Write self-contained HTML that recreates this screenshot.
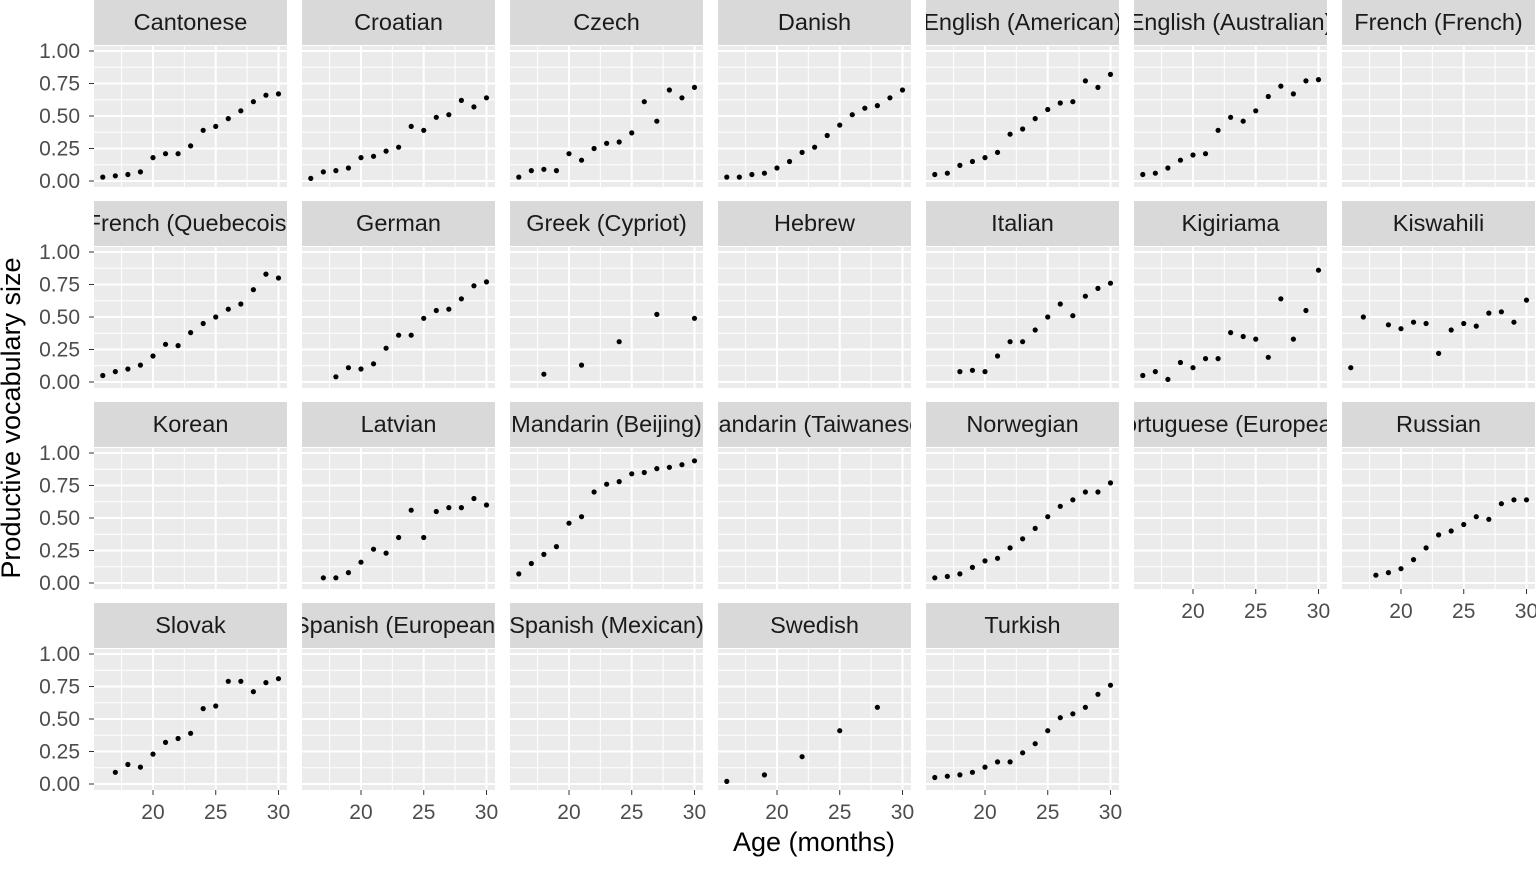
<!DOCTYPE html>
<html><head><meta charset="utf-8"><style>
body{margin:0;background:#fff}
svg text{font-family:"Liberation Sans",sans-serif}
</style></head><body>
<svg id="chart" width="1536" height="864" xmlns="http://www.w3.org/2000/svg"></svg>
<script>
const languages = ["Cantonese","Croatian","Czech","Danish","English (American)","English (Australian)","French (French)",
"French (Quebecois)","German","Greek (Cypriot)","Hebrew","Italian","Kigiriama","Kiswahili",
"Korean","Latvian","Mandarin (Beijing)","Mandarin (Taiwanese)","Norwegian","Portuguese (European)","Russian",
"Slovak","Spanish (European)","Spanish (Mexican)","Swedish","Turkish"];
const ages = [16,17,18,19,20,21,22,23,24,25,26,27,28,29,30];
const cantonese = [0.03,0.04,0.05,0.07,0.18,0.21,0.21,0.27,0.39,0.42,0.48,0.54,0.61,0.66,0.67];
const croatian = [0.02,0.07,0.08,0.10,0.18,0.19,0.23,0.26,0.42,0.39,0.49,0.51,0.62,0.57,0.64];
const czech = [0.03,0.08,0.09,0.08,0.21,0.16,0.25,0.29,0.30,0.37,0.61,0.46,0.70,0.64,0.72];
const danish = [0.03,0.03,0.05,0.06,0.10,0.15,0.22,0.26,0.35,0.43,0.51,0.56,0.58,0.64,0.70];
const englishAm = [0.05,0.06,0.12,0.15,0.18,0.22,0.36,0.40,0.48,0.55,0.60,0.61,0.77,0.72,0.82];
const englishAu = [0.05,0.06,0.10,0.16,0.20,0.21,0.39,0.49,0.46,0.54,0.65,0.73,0.67,0.77,0.78];
const frenchQc = [0.05,0.08,0.10,0.13,0.20,0.29,0.28,0.38,0.45,0.50,0.56,0.60,0.71,0.83,0.80];
const german = [null,null,0.04,0.11,0.10,0.14,0.26,0.36,0.36,0.49,0.55,0.56,0.64,0.74,0.77];
const greek = [null,null,0.06,null,null,0.13,null,null,0.31,null,null,0.52,null,null,0.49];
const italian = [null,null,0.08,0.09,0.08,0.20,0.31,0.31,0.40,0.50,0.60,0.51,0.66,0.72,0.76];
const kigiriama = [0.05,0.08,0.02,0.15,0.11,0.18,0.18,0.38,0.35,0.33,0.19,0.64,0.33,0.55,0.86];
const kiswahili = [0.11,0.50,null,0.44,0.41,0.46,0.45,0.22,0.40,0.45,0.43,0.53,0.54,0.46,0.63];
const latvian = [null,0.04,0.04,0.08,0.16,0.26,0.23,0.35,0.56,0.35,0.55,0.58,0.58,0.65,0.60];
const mandarinBj = [0.07,0.15,0.22,0.28,0.46,0.51,0.70,0.76,0.78,0.84,0.85,0.88,0.89,0.91,0.94];
const norwegian = [0.04,0.05,0.07,0.12,0.17,0.19,0.27,0.34,0.42,0.51,0.59,0.64,0.70,0.70,0.77];
const russian = [null,null,0.06,0.08,0.11,0.18,0.27,0.37,0.40,0.45,0.51,0.49,0.61,0.64,0.64];
const slovak = [null,0.09,0.15,0.13,0.23,0.32,0.35,0.39,0.58,0.60,0.79,0.79,0.71,0.78,0.81];
const swedish = [0.02,null,null,0.07,null,null,0.21,null,null,0.41,null,null,0.59,null,null];
const turkish = [0.05,0.06,0.07,0.09,0.13,0.17,0.17,0.24,0.31,0.41,0.51,0.54,0.59,0.69,0.76];
const seriesByLang = {"Cantonese":cantonese,"Croatian":croatian,"Czech":czech,"Danish":danish,
"English (American)":englishAm,"English (Australian)":englishAu,"French (Quebecois)":frenchQc,
"German":german,"Greek (Cypriot)":greek,"Italian":italian,"Kigiriama":kigiriama,"Kiswahili":kiswahili,
"Latvian":latvian,"Mandarin (Beijing)":mandarinBj,"Norwegian":norwegian,"Russian":russian,
"Slovak":slovak,"Swedish":swedish,"Turkish":turkish};
const yTicks = [0,0.25,0.5,0.75,1];
const yTickLabels = ["0.00","0.25","0.50","0.75","1.00"];
const xTicks = [20,25,30];

const NS="http://www.w3.org/2000/svg";
const svg=document.getElementById('chart');
function mk(tag,attrs,parent){const e=document.createElementNS(NS,tag);for(const k in attrs)e.setAttribute(k,attrs[k]);(parent||svg).appendChild(e);return e;}
const PW=193, X0=94, DX=208, DY=201, STRIP=45;
function xs(c,a){return X0+DX*c+(a-15.3)*12.55;}
function ys(r,v){return DY*r+181-v*130;}
const defs=mk('defs',{});
languages.forEach((lang,i)=>{
  const c=i%7, r=Math.floor(i/7), left=X0+DX*c, top=DY*r;
  const g=mk('g',{});
  
  
  const cp=mk('clipPath',{id:'cp'+i},defs);
  mk('rect',{x:left,y:top,width:PW,height:STRIP},cp);
  const strip=mk('rect',{x:left,y:top,width:PW,height:STRIP,fill:'#d9d9d9'},g);
  
  
  const st=mk('text',{x:left+PW/2,y:top+30,'text-anchor':'middle','font-size':'23.5','fill':'#1a1a1a','clip-path':'url(#cp'+i+')'},g);
  st.textContent=lang;
  
  
  const pt=top+STRIP+1, pb=top+187;
  mk('rect',{x:left,y:pt,width:PW,height:pb-pt,fill:'#ebebeb'},g);
  [0.125,0.375,0.625,0.875].forEach(v=>mk('line',{x1:left,x2:left+PW,y1:ys(r,v),y2:ys(r,v),stroke:'#fff','stroke-width':1},g));
  [17.5,22.5,27.5].forEach(a=>mk('line',{x1:xs(c,a),x2:xs(c,a),y1:pt,y2:pb,stroke:'#fff','stroke-width':1},g));
  yTicks.forEach(v=>mk('line',{x1:left,x2:left+PW,y1:ys(r,v),y2:ys(r,v),stroke:'#fff','stroke-width':2},g));
  xTicks.forEach(a=>mk('line',{x1:xs(c,a),x2:xs(c,a),y1:pt,y2:pb,stroke:'#fff','stroke-width':2},g));
  const data=seriesByLang[lang];
  if(data) ages.forEach((a,k)=>{ if(data[k]==null)return;
    const p=mk('circle',{cx:xs(c,a),cy:ys(r,data[k]),r:2.6,fill:'#000'},g);
    
    
  });
  if(c===0){
    yTicks.forEach((v,k)=>{
      mk('line',{x1:left-5,x2:left,y1:ys(r,v),y2:ys(r,v),stroke:'#333','stroke-width':1},g);
      const t=mk('text',{x:left-14,y:ys(r,v)+7,'text-anchor':'end','font-size':'21',fill:'#4d4d4d'},g);
      t.textContent=yTickLabels[k];
      
      
    });
  }
  const isBottom = (i+7>=languages.length);
  if(isBottom){
    xTicks.forEach(a=>{
      mk('line',{x1:xs(c,a),x2:xs(c,a),y1:pb,y2:pb+5,stroke:'#333','stroke-width':1},g);
      const t=mk('text',{x:xs(c,a),y:pb+29,'text-anchor':'middle','font-size':'21',fill:'#4d4d4d'},g);
      t.textContent=a;
      
      
    });
  }
});
const xt=mk('text',{x:814,y:851,'text-anchor':'middle','font-size':'27',fill:'#000'});
xt.textContent='Age (months)';


const yt=mk('text',{x:0,y:0,'text-anchor':'middle','font-size':'27',fill:'#000',transform:'translate(20,418) rotate(-90)'});
yt.textContent='Productive vocabulary size';


</script>
</body></html>
